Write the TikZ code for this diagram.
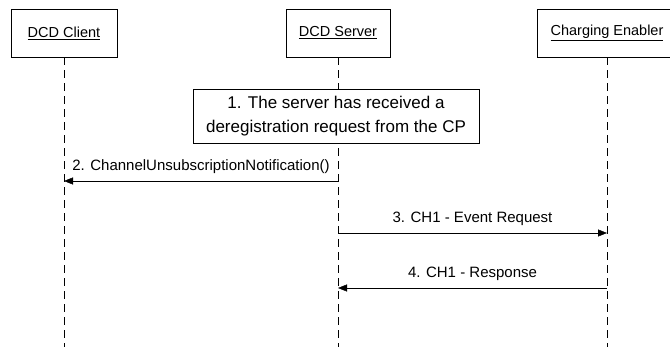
\documentclass[tikz,border=0pt]{standalone}
\usepackage{fontspec}
\setmainfont{Liberation Sans}
\usepackage{tikz}
\usetikzlibrary{arrows.meta,positioning,calc}
\tikzset{
    actor/.style={draw, thin, minimum height=48pt, inner sep=0pt, font=\fontsize{14.5}{17}\selectfont},
    lifeline/.style={thin, dash pattern=on 8pt off 5pt},
    note/.style={draw, thin, fill=white, minimum width=286pt, minimum height=54pt, align=center, font=\fontsize{17}{24}\selectfont},
    msg/.style={-{Triangle[length=9pt, width=7pt]}, thin},
    msglabel/.style={above, inner sep=0pt, yshift=7pt, font=\fontsize{15}{18}\selectfont}
}

\begin{document}
\begin{tikzpicture}[x=1pt, y=-1pt]
            \clip (0,0) rectangle (670,347);
            % actors
            \node[actor, minimum width=106pt] (client) at (64,33) {\underline{DCD Client}};
            \node[actor, minimum width=104pt] (server) at (338,33) {\underline{DCD Server}};
            \node[actor, minimum width=140pt] (enabler) at (607,33) {\underline{Charging Enabler}};
            \coordinate (bottom) at (0,347);
            % lifelines
            \draw[lifeline] (client.south) -- (client.south |- bottom);
            \draw[lifeline] (server.south) -- (server.south |- bottom);
            \draw[lifeline] (enabler.south) -- (enabler.south |- bottom);
            % step 1
            \node[note] (step1) at (336,116) {1. The server has received a\\deregistration request from the CP};
            % messages
            \coordinate (m2s) at (server.south |- 0,181);
            \coordinate (m2e) at (client.south |- 0,181);
            \coordinate (m3s) at (server.south |- 0,233);
            \coordinate (m3e) at (enabler.south |- 0,233);
            \coordinate (m4s) at (enabler.south |- 0,288);
            \coordinate (m4e) at (server.south |- 0,288);
            \draw[msg] (m2s) -- node[msglabel] {2. ChannelUnsubscriptionNotification()} (m2e);
            \draw[msg] (m3s) -- node[msglabel] {3. CH1 - Event Request} (m3e);
            \draw[msg] (m4s) -- node[msglabel] {4. CH1 - Response} (m4e);
        \end{tikzpicture}
\end{document}
